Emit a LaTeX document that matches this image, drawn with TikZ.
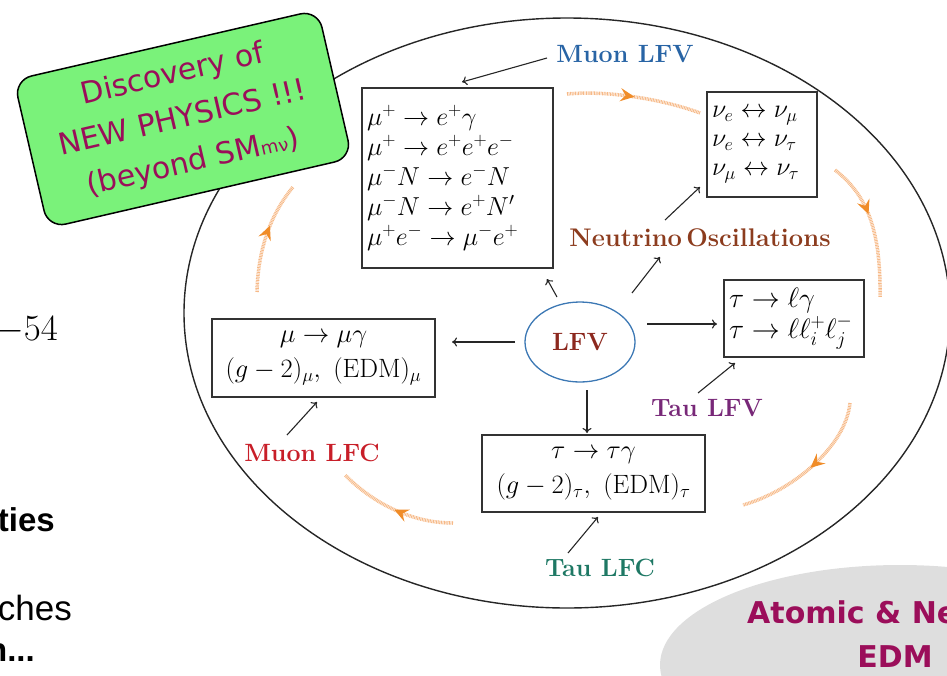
\RequirePackage{fix-cm}
\documentclass[tikz,border=0pt]{standalone}
\usepackage{amsmath}
\usepackage{fontspec}
\newfontfamily\comic{DejaVu Sans}
\newfontfamily\arial{Liberation Sans}
\usetikzlibrary{arrows.meta,decorations.markings,shapes.geometric,calc}
\definecolor{boxgreen}{RGB}{122,242,122}
\definecolor{crimsontext}{RGB}{155,14,90}
\definecolor{muonlfv}{RGB}{40,100,165}
\definecolor{nuosc}{RGB}{140,60,30}
\definecolor{lfvred}{RGB}{140,40,30}
\definecolor{lfvblue}{RGB}{60,120,180}
\definecolor{taulfv}{RGB}{120,40,120}
\definecolor{muonlfc}{RGB}{200,30,40}
\definecolor{taulfc}{RGB}{30,120,100}
\definecolor{wavy}{RGB}{246,185,135}
\definecolor{wavyhead}{RGB}{240,140,40}
\definecolor{grayblob}{RGB}{222,222,222}
\begin{document}
\begin{tikzpicture}[x=1pt,y=-1pt,
  conn/.style={draw=black!85, line width=1.1pt, -{Computer Modern Rightarrow[length=5pt,width=9pt]}},
  mathbox/.style={draw=black!80, line width=1.3pt, fill=white, inner sep=0pt, font=\fontsize{25}{30}\selectfont},
  lab/.style={font=\fontsize{25}{28}\selectfont\bfseries},
  wavyline/.style={draw=wavy, line width=3.5pt, dash pattern=on 0.9pt off 0.7pt,
    postaction={decorate},
    decoration={markings, mark=at position #1 with {\arrow[wavyhead,solid]{Stealth[length=14pt,width=13pt,inset=5pt]}}}},
  wavyline/.default=0.5,
  sidetext/.style={anchor=east, inner sep=0pt},
]
\useasboundingbox (0,0) rectangle (947,675);
% gray blob
\fill[grayblob] (900,665) ellipse [x radius=240, y radius=100];
% big ellipse
\draw[black!85, line width=1.4pt] (567,313) ellipse [x radius=383, y radius=295];
% orange arcs (clockwise)
\coordinate (w1a) at (567,94);  \coordinate (w1b) at (700,113);
\coordinate (w2a) at (835,170); \coordinate (w2b) at (880,297);
\coordinate (w3a) at (850,403); \coordinate (w3b) at (743,505);
\coordinate (w4a) at (453,523); \coordinate (w4b) at (345,475);
\coordinate (w5a) at (257,292); \coordinate (w5b) at (293,187);
\draw[wavyline=0.5] (w1a) .. controls (610,90) and (665,100) .. (w1b);
\draw[wavyline=0.4] (w2a) .. controls (866,194) and (881,228) .. (w2b);
\draw[wavyline=0.5] (w3a) .. controls (846,445) and (795,490) .. (w3b);
\draw[wavyline=0.5] (w4a) .. controls (410,523) and (372,502) .. (w4b);
\draw[wavyline=0.6] (w5a) .. controls (258,250) and (270,215) .. (w5b);
% boxes
\node[mathbox, align=left, text width=181pt, minimum width=191pt, minimum height=180pt, font=\fontsize{26}{30}\selectfont] (mlfvbox) at (457.5,178)
  {$\mu^+\to e^+\gamma$\\ $\mu^+\to e^+e^+e^-$\\ $\mu^-N\to e^-N$\\ $\mu^-N\to e^+N'$\\ $\mu^+e^-\to\mu^-e^+$};
\node[mathbox, align=left, text width=100pt, minimum width=110pt, minimum height=105pt, font=\fontsize{26}{29}\selectfont] (nubox) at (762,144.5)
  {$\nu_e\leftrightarrow\nu_\mu$\\ $\nu_e\leftrightarrow\nu_\tau$\\ $\nu_\mu\leftrightarrow\nu_\tau$};
\node[mathbox, align=left, text width=130pt, minimum width=140pt, minimum height=77pt, font=\fontsize{28}{31}\selectfont] (tlfvbox) at (794,318.5)
  {$\tau\to\ell\gamma$\\ $\tau\to\ell\ell_i^+\ell_j^-$};
\node[mathbox, align=center, minimum width=223pt, minimum height=78pt, font=\fontsize{26.5}{35}\selectfont] (mlfcbox) at (323.5,358)
  {$\mu\to\mu\gamma$\\ $(g-2)_\mu,\ (\mathrm{EDM})_\mu$};
\node[mathbox, align=center, minimum width=223pt, minimum height=77pt, font=\fontsize{26.5}{35}\selectfont] (tlfcbox) at (593.5,473.5)
  {$\tau\to\tau\gamma$\\ $(g-2)_\tau,\ (\mathrm{EDM})_\tau$};
\node[ellipse, draw=lfvblue, line width=1.3pt, minimum width=110pt, minimum height=80pt, text=lfvred, lab] (lfv) at (580,342) {LFV};
% labels
\node[lab, text=muonlfv] (mlfvlab) at (625,54) {Muon LFV};
\node[lab, text=nuosc, font=\fontsize{25.5}{28}\selectfont\bfseries] (nulab) at (700,238) {Neutrino\,Oscillations};
\node[lab, text=taulfv] (tlfvlab) at (707,408) {Tau LFV};
\node[lab, text=muonlfc] (mlfclab) at (312,453) {Muon LFC};
\node[lab, text=taulfc] (tlfclab) at (600,568) {Tau LFC};
% connectors
\draw[conn] ([xshift=-78pt,yshift=-4pt]mlfvlab.center) -- ([xshift=4.5pt,yshift=96pt]mlfvbox.center);
\draw[conn] ([xshift=-23pt,yshift=45pt]lfv.center) -- ([xshift=89.5pt,yshift=-101pt]mlfvbox.center);
\draw[conn] ([xshift=52pt,yshift=49pt]lfv.center) -- ([xshift=-40pt,yshift=-19pt]nulab.center);
\draw[conn] ([xshift=-35pt,yshift=18pt]nulab.center) -- ([xshift=-62pt,yshift=-42.5pt]nubox.center);
\draw[conn] ([xshift=-65pt]lfv.center) -- ([xshift=128.5pt,yshift=16pt]mlfcbox.center);
\draw[conn] ([xshift=67pt,yshift=18pt]lfv.center) -- ([xshift=-77pt,yshift=-5.5pt]tlfvbox.center);
\draw[conn] ([xshift=-9pt,yshift=15pt]tlfvlab.center) -- ([xshift=-59pt,yshift=-44.5pt]tlfvbox.center);
\draw[conn] ([xshift=7pt,yshift=-48pt]lfv.center) -- ([xshift=-6.5pt,yshift=40.5pt]tlfcbox.center);
\draw[conn] ([xshift=-25pt,yshift=18pt]mlfclab.center) -- ([xshift=-6.5pt,yshift=-44pt]mlfcbox.center);
\draw[conn] ([xshift=-32pt,yshift=15pt]tlfclab.center) -- ([xshift=4.5pt,yshift=-43.5pt]tlfcbox.center);
% green discovery box
\node[rotate=13, draw=black, line width=1.5pt, fill=boxgreen, rounded corners=18pt, minimum width=312pt, minimum height=152pt,
  align=center, text=crimsontext, font=\comic\fontsize{30}{45}\selectfont, inner sep=0pt] (disc) at (183,119)
  {Discovery of\\NEW PHYSICS !!!\\(beyond SM{\fontsize{18}{18}\selectfont m\raisebox{-1pt}{ν}})};
% atomic EDM text
\node[anchor=west, text=crimsontext, font=\comic\bfseries\fontsize{30}{40}\selectfont, inner sep=0pt] (atomic) at (747,612) {Atomic \& Ne};
\node[text=crimsontext, font=\comic\bfseries\fontsize{30}{40}\selectfont, inner sep=0pt] (edm) at (895,657) {EDM};
% left fragments of slide text
\node[sidetext, font=\fontsize{37}{40}\selectfont] (t54) at (58,330) {$-54$};
\node[sidetext, font=\arial\bfseries\fontsize{33}{34}\selectfont] (tties) at (55,520) {ties};
\node[sidetext, font=\arial\fontsize{35}{36}\selectfont] (tches) at (72,608) {ches};
\node[sidetext, font=\arial\bfseries\fontsize{33}{34}\selectfont] (tn) at (35,653) {n...};
\end{tikzpicture}
\end{document}
